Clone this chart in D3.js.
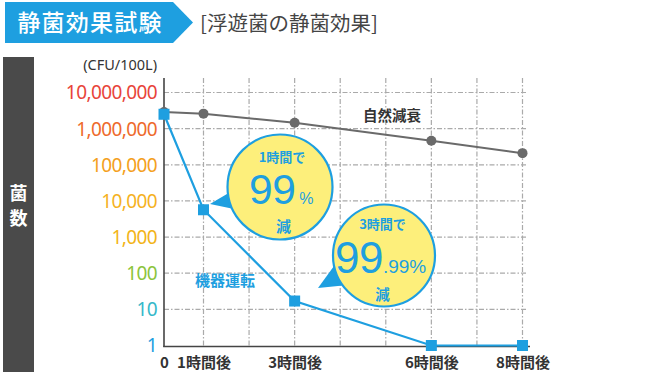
<!DOCTYPE html>
<html><head><meta charset="utf-8">
<script src="https://cdn.jsdelivr.net/npm/d3@7"></script>
<style>
body{margin:0;background:#fff;}
svg{display:block;}
</style></head>
<body><svg id="c" width="670" height="382" font-family="'Noto Sans','Noto Sans CJK JP',sans-serif"></svg>
<script>
const hours = [0, 1, 3, 6, 8];
const xLabels = ["0", "1時間後", "3時間後", "6時間後", "8時間後"];
const natural = [2900000, 2600000, 1450000, 460000, 210000];
const device = [2500000, 5700, 17, 1, 1];
const yTicks = [1, 10, 100, 1000, 10000, 100000, 1000000, 10000000];
const yTickLabels = ["1", "10", "100", "1,000", "10,000", "100,000", "1,000,000", "10,000,000"];
const yTickColors = ["#1e9fe0", "#35b8c9", "#8cc43c", "#f2b418", "#f5b21f", "#f4a020", "#ee6a2c", "#e8443a"];
const gridHours = [1, 2, 3, 4, 5, 6, 7, 8];

const BLUE = "#1e9fe0", YEL = "#fdef7b", GRAY = "#6a6a6a";
const svg = d3.select("#c");
const x = d3.scaleLinear().domain([0, 1, 8]).range([164, 203.5, 522.5]);
const y = d3.scaleLog().domain([1, 1e7]).range([345.5, 92.5]);
const yTop = 78, xRight = 528;
const CJK = "'Noto Sans CJK JP'";
const NUM = "'Liberation Sans'";

// Title banner
svg.append("path").attr("d", "M5,2 H173 L193,22.5 L173,43 H5 Z").attr("fill", BLUE);
svg.append("text").attr("x", 90).attr("y", 31).attr("text-anchor", "middle")
  .attr("fill", "#fff").attr("font-size", 23).attr("font-weight", 500)
  .attr("font-family", CJK).attr("letter-spacing", 1.2).text("静菌効果試験");
svg.append("text").attr("x", 200).attr("y", 30.5).attr("fill", "#444")
  .attr("font-size", 20.5).attr("font-family", CJK).text("[浮遊菌の静菌効果]");

// Left bar
svg.append("rect").attr("x", 3).attr("y", 57).attr("width", 31).attr("height", 315).attr("fill", "#4a4a4a");
svg.append("text").attr("x", 18.5).attr("y", 200).attr("text-anchor", "middle").attr("fill", "#fff")
  .attr("font-size", 18).attr("font-weight", 700).attr("font-family", CJK).text("菌");
svg.append("text").attr("x", 18.5).attr("y", 225).attr("text-anchor", "middle").attr("fill", "#fff")
  .attr("font-size", 18).attr("font-weight", 700).attr("font-family", CJK).text("数");

// unit
svg.append("text").attr("x", 157).attr("y", 70).attr("text-anchor", "end").attr("fill", "#333")
  .attr("font-size", 14.5).attr("font-family", "'Noto Sans'").text("(CFU/100L)");

// grid
const grid = svg.append("g").attr("stroke", "#aaa").attr("stroke-width", 1.2).attr("stroke-dasharray", "5,2,1.5,2");
grid.selectAll("line.h").data(yTicks.slice(1)).join("line").attr("class", "h")
  .attr("x1", x(0)).attr("x2", xRight).attr("y1", d => y(d)).attr("y2", d => y(d));
grid.selectAll("line.v").data(gridHours).join("line").attr("class", "v")
  .attr("x1", d => x(d)).attr("x2", d => x(d)).attr("y1", yTop).attr("y2", y(1));

// axes lines
svg.append("line").attr("x1", x(0)).attr("x2", x(0)).attr("y1", yTop).attr("y2", 347)
  .attr("stroke", "#444").attr("stroke-width", 1.6);
svg.append("line").attr("x1", x(0) - 0.8).attr("x2", xRight + 2).attr("y1", 346.5).attr("y2", 346.5)
  .attr("stroke", "#444").attr("stroke-width", 1.6);

// y tick labels via axis
const yAxis = d3.axisLeft(y).tickValues(yTicks).tickSize(0).tickPadding(7)
  .tickFormat((d, i) => yTickLabels[i]);
const ya = svg.append("g").attr("transform", `translate(${x(0)},0)`).call(yAxis);
ya.attr("font-family", null).attr("font-size", null);
ya.select(".domain").remove();
ya.selectAll("text").attr("font-size", 19).attr("font-family", "'Noto Sans'")
  .attr("letter-spacing", -0.6)
  .attr("fill", (d, i) => yTickColors[i]).attr("dy", "0.34em");

// x tick labels via axis
const xAxis = d3.axisBottom(x).tickValues(hours).tickSize(0).tickPadding(10)
  .tickFormat((d, i) => xLabels[i]);
const xa = svg.append("g").attr("transform", "translate(0,346.5)").call(xAxis);
xa.attr("font-family", null).attr("font-size", null);
xa.select(".domain").remove();
xa.selectAll("text").attr("font-size", 15).attr("font-weight", 700).attr("fill", "#333")
  .attr("font-family", CJK).attr("dy", "0.75em");

// natural decay line
const line = d3.line().x((d, i) => x(hours[i])).y(d => y(d));
svg.append("path").attr("d", line(natural)).attr("fill", "none").attr("stroke", GRAY).attr("stroke-width", 2);
svg.selectAll("circle.n").data(natural).join("circle").attr("class", "n")
  .attr("cx", (d, i) => x(hours[i])).attr("cy", d => y(d)).attr("r", 5).attr("fill", GRAY);
svg.append("text").attr("x", 363).attr("y", 121).attr("fill", "#333").attr("font-size", 14.5)
  .attr("font-weight", 700).attr("font-family", CJK).text("自然減衰");

// device line
svg.append("path").attr("d", line(device)).attr("fill", "none").attr("stroke", BLUE).attr("stroke-width", 2.2);
svg.selectAll("rect.d").data(device).join("rect").attr("class", "d")
  .attr("x", (d, i) => x(hours[i]) - 5.5).attr("y", d => y(d) - 5.5)
  .attr("width", 11).attr("height", 11).attr("fill", BLUE);
svg.append("text").attr("x", 195).attr("y", 285.5).attr("fill", BLUE).attr("font-size", 15)
  .attr("font-weight", 700).attr("font-family", CJK).text("機器運転");

// callout 1
svg.append("path").attr("d", "M210,204 L232,191 L234,209 Z").attr("fill", BLUE);
svg.append("circle").attr("cx", 280).attr("cy", 187).attr("r", 52.5).attr("fill", YEL)
  .attr("stroke", BLUE).attr("stroke-width", 2.2);
svg.append("text").attr("x", 282).attr("y", 161.5).attr("text-anchor", "middle").attr("fill", BLUE)
  .attr("font-size", 13).attr("font-weight", 700).attr("font-family", CJK).text("1時間で");
const t1 = svg.append("text").attr("x", 249).attr("y", 204).attr("fill", BLUE).attr("font-family", NUM);
t1.append("tspan").attr("font-size", 42.5).attr("letter-spacing", -0.5).text("99");
t1.append("tspan").attr("font-size", 16).attr("dx", 4).text("%");
svg.append("text").attr("x", 283.5).attr("y", 231.5).attr("text-anchor", "middle").attr("fill", BLUE)
  .attr("font-size", 15).attr("font-weight", 700).attr("font-family", CJK).text("減");

// callout 2
svg.append("path").attr("d", "M318,288 L334,266 L348,285 Z").attr("fill", BLUE);
svg.append("circle").attr("cx", 384).attr("cy", 255.5).attr("r", 51).attr("fill", YEL)
  .attr("stroke", BLUE).attr("stroke-width", 2.2);
svg.append("text").attr("x", 382.5).attr("y", 228.5).attr("text-anchor", "middle").attr("fill", BLUE)
  .attr("font-size", 13).attr("font-weight", 700).attr("font-family", CJK).text("3時間で");
const t2 = svg.append("text").attr("x", 335).attr("y", 273).attr("fill", BLUE).attr("font-family", NUM);
t2.append("tspan").attr("font-size", 44).attr("letter-spacing", -0.5).text("99");
t2.append("tspan").attr("font-size", 19).attr("dx", 0).text(".99%");
svg.append("text").attr("x", 382.5).attr("y", 299.5).attr("text-anchor", "middle").attr("fill", BLUE)
  .attr("font-size", 14.5).attr("font-weight", 700).attr("font-family", CJK).text("減");
</script></body></html>
